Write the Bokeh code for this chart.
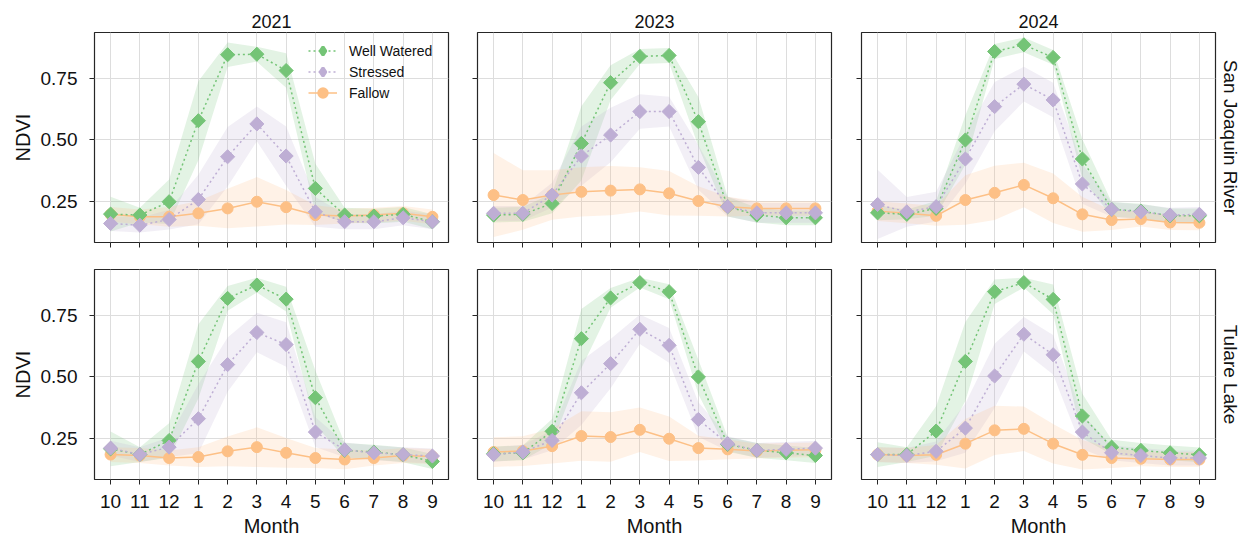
import numpy as np
from bokeh.plotting import figure
from bokeh.layouts import column, row
from bokeh.models import (FixedTicker, Legend, LegendItem, Range1d, Title,
                          PrintfTickFormatter, CustomLabelingPolicy)
from bokeh.embed import file_html
from bokeh.resources import INLINE

# ---------------------------------------------------------------- data
months = ["10", "11", "12", "1", "2", "3", "4", "5", "6", "7", "8", "9"]
years = ["2021", "2023", "2024"]
regions = ["San Joaquin River", "Tulare Lake"]
classes = ["Well Watered", "Stressed", "Fallow"]
y_ticks = [0.25, 0.50, 0.75]

# San Joaquin River: monthly mean NDVI and its standard deviation
sjr_2021_ww = [0.200, 0.196, 0.250, 0.578, 0.845, 0.847, 0.781, 0.304, 0.196, 0.192, 0.199, 0.169]
sjr_2021_ww_sd = [0.07, 0.03, 0.09, 0.16, 0.05, 0.03, 0.07, 0.10, 0.03, 0.03, 0.03, 0.03]
sjr_2021_st = [0.162, 0.155, 0.178, 0.259, 0.432, 0.565, 0.435, 0.209, 0.169, 0.169, 0.185, 0.169]
sjr_2021_st_sd = [0.03, 0.03, 0.04, 0.10, 0.12, 0.07, 0.12, 0.06, 0.03, 0.03, 0.03, 0.03]
sjr_2021_fa = [0.199, 0.189, 0.189, 0.203, 0.223, 0.250, 0.228, 0.196, 0.192, 0.196, 0.203, 0.189]
sjr_2021_fa_sd = [0.03, 0.03, 0.04, 0.05, 0.08, 0.10, 0.07, 0.04, 0.03, 0.03, 0.03, 0.03]

sjr_2023_ww = [0.196, 0.199, 0.243, 0.486, 0.732, 0.838, 0.842, 0.574, 0.230, 0.196, 0.185, 0.185]
sjr_2023_ww_sd = [0.03, 0.03, 0.04, 0.15, 0.07, 0.03, 0.03, 0.10, 0.04, 0.03, 0.03, 0.03]
sjr_2023_st = [0.203, 0.203, 0.277, 0.435, 0.520, 0.615, 0.615, 0.389, 0.230, 0.205, 0.205, 0.205]
sjr_2023_st_sd = [0.03, 0.03, 0.05, 0.12, 0.11, 0.07, 0.06, 0.09, 0.04, 0.04, 0.04, 0.04]
sjr_2023_fa = [0.277, 0.257, 0.277, 0.290, 0.295, 0.300, 0.284, 0.253, 0.230, 0.223, 0.223, 0.223]
sjr_2023_fa_sd = [0.17, 0.12, 0.10, 0.10, 0.10, 0.09, 0.09, 0.06, 0.04, 0.03, 0.03, 0.03]

sjr_2024_ww = [0.205, 0.199, 0.223, 0.500, 0.858, 0.885, 0.834, 0.423, 0.219, 0.212, 0.193, 0.193]
sjr_2024_ww_sd = [0.03, 0.02, 0.03, 0.10, 0.03, 0.03, 0.03, 0.08, 0.03, 0.03, 0.03, 0.03]
sjr_2024_st = [0.239, 0.209, 0.230, 0.423, 0.635, 0.726, 0.662, 0.322, 0.219, 0.209, 0.196, 0.199]
sjr_2024_st_sd = [0.14, 0.06, 0.06, 0.10, 0.10, 0.07, 0.07, 0.08, 0.03, 0.03, 0.03, 0.03]
sjr_2024_fa = [0.212, 0.203, 0.193, 0.257, 0.286, 0.318, 0.264, 0.199, 0.176, 0.180, 0.166, 0.165]
sjr_2024_fa_sd = [0.04, 0.04, 0.04, 0.10, 0.11, 0.09, 0.10, 0.07, 0.04, 0.03, 0.03, 0.03]

# Tulare Lake: monthly mean NDVI and its standard deviation
tl_2021_ww = [0.209, 0.186, 0.243, 0.563, 0.818, 0.872, 0.815, 0.416, 0.203, 0.196, 0.185, 0.158]
tl_2021_ww_sd = [0.07, 0.03, 0.07, 0.15, 0.05, 0.03, 0.05, 0.11, 0.03, 0.03, 0.03, 0.03]
tl_2021_st = [0.212, 0.186, 0.216, 0.331, 0.550, 0.680, 0.631, 0.277, 0.205, 0.193, 0.186, 0.180]
tl_2021_st_sd = [0.03, 0.03, 0.04, 0.14, 0.11, 0.08, 0.09, 0.06, 0.03, 0.03, 0.03, 0.03]
tl_2021_fa = [0.186, 0.182, 0.172, 0.176, 0.199, 0.216, 0.193, 0.172, 0.166, 0.172, 0.182, 0.178]
tl_2021_fa_sd = [0.03, 0.03, 0.03, 0.04, 0.06, 0.08, 0.06, 0.04, 0.04, 0.03, 0.03, 0.03]

tl_2023_ww = [0.189, 0.193, 0.280, 0.655, 0.820, 0.882, 0.845, 0.500, 0.227, 0.203, 0.193, 0.182]
tl_2023_ww_sd = [0.03, 0.03, 0.05, 0.12, 0.04, 0.02, 0.03, 0.07, 0.03, 0.03, 0.03, 0.03]
tl_2023_st = [0.186, 0.196, 0.243, 0.436, 0.554, 0.693, 0.628, 0.328, 0.230, 0.203, 0.207, 0.212]
tl_2023_st_sd = [0.03, 0.03, 0.04, 0.13, 0.10, 0.06, 0.07, 0.07, 0.03, 0.03, 0.03, 0.03]
tl_2023_fa = [0.196, 0.200, 0.220, 0.261, 0.257, 0.286, 0.250, 0.212, 0.207, 0.200, 0.203, 0.205]
tl_2023_fa_sd = [0.06, 0.06, 0.07, 0.10, 0.10, 0.09, 0.09, 0.05, 0.04, 0.03, 0.03, 0.03]

tl_2024_ww = [0.186, 0.186, 0.281, 0.563, 0.845, 0.882, 0.814, 0.342, 0.216, 0.203, 0.193, 0.185]
tl_2024_ww_sd = [0.05, 0.03, 0.10, 0.16, 0.05, 0.02, 0.06, 0.09, 0.03, 0.03, 0.03, 0.03]
tl_2024_st = [0.186, 0.182, 0.199, 0.293, 0.504, 0.673, 0.590, 0.277, 0.193, 0.182, 0.172, 0.172]
tl_2024_st_sd = [0.03, 0.03, 0.04, 0.10, 0.13, 0.07, 0.08, 0.07, 0.03, 0.03, 0.03, 0.03]
tl_2024_fa = [0.186, 0.182, 0.185, 0.230, 0.284, 0.290, 0.230, 0.185, 0.172, 0.169, 0.166, 0.166]
tl_2024_fa_sd = [0.03, 0.03, 0.04, 0.10, 0.10, 0.09, 0.08, 0.06, 0.04, 0.03, 0.03, 0.03]

series = {
    ("San Joaquin River", "2021"): {"Well Watered": (sjr_2021_ww, sjr_2021_ww_sd),
                                    "Stressed": (sjr_2021_st, sjr_2021_st_sd),
                                    "Fallow": (sjr_2021_fa, sjr_2021_fa_sd)},
    ("San Joaquin River", "2023"): {"Well Watered": (sjr_2023_ww, sjr_2023_ww_sd),
                                    "Stressed": (sjr_2023_st, sjr_2023_st_sd),
                                    "Fallow": (sjr_2023_fa, sjr_2023_fa_sd)},
    ("San Joaquin River", "2024"): {"Well Watered": (sjr_2024_ww, sjr_2024_ww_sd),
                                    "Stressed": (sjr_2024_st, sjr_2024_st_sd),
                                    "Fallow": (sjr_2024_fa, sjr_2024_fa_sd)},
    ("Tulare Lake", "2021"): {"Well Watered": (tl_2021_ww, tl_2021_ww_sd),
                              "Stressed": (tl_2021_st, tl_2021_st_sd),
                              "Fallow": (tl_2021_fa, tl_2021_fa_sd)},
    ("Tulare Lake", "2023"): {"Well Watered": (tl_2023_ww, tl_2023_ww_sd),
                              "Stressed": (tl_2023_st, tl_2023_st_sd),
                              "Fallow": (tl_2023_fa, tl_2023_fa_sd)},
    ("Tulare Lake", "2024"): {"Well Watered": (tl_2024_ww, tl_2024_ww_sd),
                              "Stressed": (tl_2024_st, tl_2024_st_sd),
                              "Fallow": (tl_2024_fa, tl_2024_fa_sd)},
}

# ---------------------------------------------------------------- style
FONT = "Liberation Sans"
TEXT = "#111111"
EDGE = "#262626"
colors = {"Well Watered": "#74c476", "Stressed": "#beaed4", "Fallow": "#fdc086"}
dashes = {"Well Watered": "2 3", "Stressed": "2 3", "Fallow": "solid"}
markers = {"Well Watered": "square", "Stressed": "square", "Fallow": "circle"}
legend_markers = {"Well Watered": "diamond", "Stressed": "diamond", "Fallow": "circle"}
marker_sizes = {"Well Watered": 10, "Stressed": 10, "Fallow": 11}
marker_angles = {"Well Watered": np.pi / 4, "Stressed": np.pi / 4, "Fallow": 0.0}
draw_order = ["Fallow", "Well Watered", "Stressed"]

FRAME_W, FRAME_H = 354, 210
col_borders = [(94, 9), (20, 10), (20, 28)]   # (left, right)
row_borders = [(32, 17), (10, 61)]            # (top, bottom)

# tick marks stay on inner axes, their labels are dropped
HIDE_LABELS = ("const n = (indices.size !== undefined) ? indices.size : bboxes.length;"
               "for (let i = 0; i < n; i++) { indices.unset(i) }"
               "return indices")

x = np.arange(len(months))


def style_axis(ax):
    ax.axis_line_color = None
    ax.major_tick_line_color = EDGE
    ax.major_tick_in = 0
    ax.major_tick_out = 5
    ax.minor_tick_line_color = None
    ax.major_label_text_font = FONT
    ax.major_label_text_font_size = "19px"
    ax.major_label_text_color = TEXT
    ax.axis_label_text_font = FONT
    ax.axis_label_text_font_size = "20px"
    ax.axis_label_text_font_style = "normal"
    ax.axis_label_text_color = TEXT


def hide_labels(ax):
    ax.major_label_policy = CustomLabelingPolicy(code=HIDE_LABELS)
    ax.major_label_text_font_size = "1px"
    ax.major_label_standoff = 0


def make_panel(ri, ci):
    region, year = regions[ri], years[ci]
    left, right = col_borders[ci]
    top, bottom = row_borders[ri]
    p = figure(frame_width=FRAME_W, frame_height=FRAME_H,
               x_range=Range1d(-0.55, 11.55), y_range=Range1d(0.085, 0.935),
               min_border_left=left, min_border_right=right,
               min_border_top=top, min_border_bottom=bottom,
               output_backend="svg", toolbar_location=None,
               title=year if ri == 0 else None)
    if ri == 0:
        p.title.align = "center"
        p.title.text_font = FONT
        p.title.text_font_size = "18px"
        p.title.text_font_style = "normal"
        p.title.text_color = TEXT
        p.title.standoff = 9

    p.background_fill_color = "white"
    p.border_fill_color = "white"
    p.outline_line_color = EDGE
    p.outline_line_width = 1.2

    p.xaxis.ticker = FixedTicker(ticks=list(x))
    p.xaxis.major_label_overrides = {int(i): m for i, m in zip(x, months)}
    p.yaxis.ticker = FixedTicker(ticks=y_ticks)
    p.yaxis.formatter = PrintfTickFormatter(format="%.2f")
    style_axis(p.xaxis[0])
    style_axis(p.yaxis[0])
    p.xaxis.major_label_standoff = 10
    p.xaxis.axis_label_standoff = 4
    p.yaxis.major_label_standoff = 12
    p.yaxis.axis_label_standoff = 4

    if ri == 1:
        p.xaxis.axis_label = "Month"
    else:
        hide_labels(p.xaxis[0])
    if ci == 0:
        p.yaxis.axis_label = "NDVI"
    else:
        hide_labels(p.yaxis[0])

    p.grid.grid_line_color = "#dddddd"
    p.grid.grid_line_width = 1

    data = series[(region, year)]
    # spread bands under every line
    for cls in classes:
        mean, sd = (np.array(v) for v in data[cls])
        p.varea(x=x, y1=mean - sd, y2=mean + sd,
                fill_color=colors[cls], fill_alpha=0.2)
    items = {}
    for cls in draw_order:
        mean = data[cls][0]
        ln = p.line(x, mean, line_color=colors[cls], line_width=1.5,
                    line_dash=dashes[cls])
        p.scatter(x, mean, marker=markers[cls], size=marker_sizes[cls],
                  angle=marker_angles[cls], fill_color=colors[cls],
                  line_color=colors[cls])
        # key symbol for the legend: a single undefined point, never drawn in the frame
        key = p.scatter([np.nan], [np.nan], marker=legend_markers[cls],
                        fill_color=colors[cls], line_color=colors[cls],
                        line_width=3)
        items[cls] = [ln, key]

    if ri == 0 and ci == 0:
        legend = Legend(items=[LegendItem(label=c, renderers=items[c]) for c in classes],
                        location=(214, 139))
        legend.padding = 0
        legend.spacing = 0
        legend.glyph_width = 29
        legend.glyph_height = 21
        legend.label_height = 21
        legend.label_standoff = 12
        legend.label_text_font = FONT
        legend.label_text_font_size = "14px"
        legend.label_text_color = TEXT
        legend.border_line_alpha = 0
        legend.background_fill_alpha = 0
        p.add_layout(legend)

    if ci == 2:
        p.add_layout(Title(text=region, align="center", text_font=FONT,
                           text_font_size="19px", text_font_style="normal",
                           text_color=TEXT, standoff=9), "right")
    return p


grid_rows = [row(*[make_panel(ri, ci) for ci in range(3)]) for ri in range(2)]
layout = column(*grid_rows)

open("out.html", "w").write(file_html(layout, INLINE, title="NDVI by month"))
